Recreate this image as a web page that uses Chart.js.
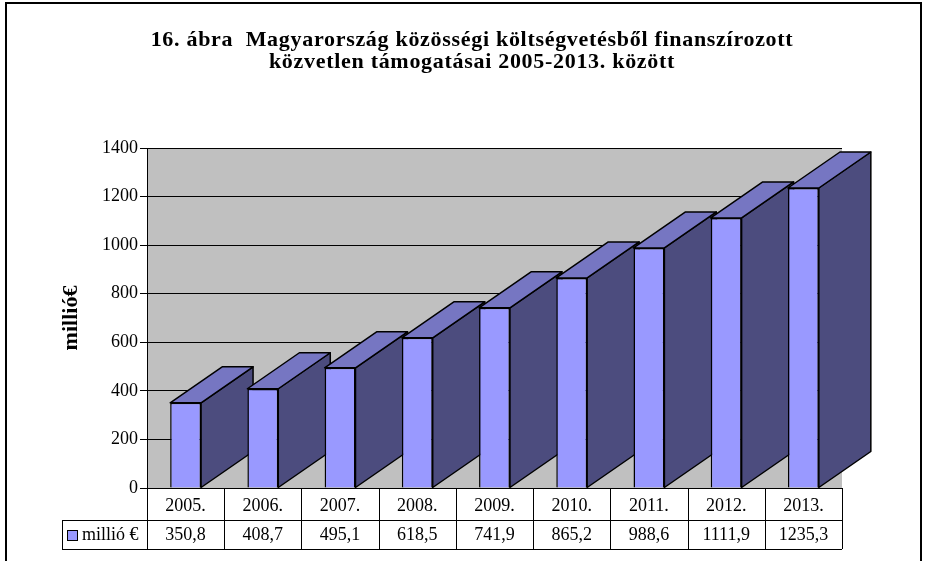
<!DOCTYPE html>
<html>
<head>
<meta charset="utf-8">
<script src="https://cdn.jsdelivr.net/npm/chart.js@4"></script>
<style>
  body { margin: 0; background: #fff; }
  canvas { display: block; }
</style>
</head>
<body>
<canvas id="chart" width="930" height="561"></canvas>
<script>
// data
const years = ['2005.', '2006.', '2007.', '2008.', '2009.', '2010.', '2011.', '2012.', '2013.'];
const values = [350.8, 408.7, 495.1, 618.5, 741.9, 865.2, 988.6, 1111.9, 1235.3];
const valueLabels = ['350,8', '408,7', '495,1', '618,5', '741,9', '865,2', '988,6', '1111,9', '1235,3'];
const seriesLabel = 'millió €';
const axisTitle = 'millió€';
const titleLines = [
  '16. ábra  Magyarország közösségi költségvetésből finanszírozott',
  'közvetlen támogatásai 2005-2013. között'
];
const yMin = 0;
const yMax = 1400;
const yStep = 200;

const serif = '"Liberation Serif", "Times New Roman", serif';
const frontColor = '#9999ff';
const sideColor = '#4c4c7e';
const topColor = '#7676c2';
const wallColor = '#c0c0c0';
const depthX = 52;
const depthY = 36;

// gray back wall + outer frame + title
const backdrop = {
  id: 'backdrop',
  beforeDraw(chart) {
    const ctx = chart.ctx;
    const a = chart.chartArea;
    ctx.save();
    ctx.fillStyle = '#fff';
    ctx.fillRect(0, 0, chart.width, chart.height);
    ctx.fillStyle = wallColor;
    ctx.fillRect(a.left, a.top, a.right - a.left, a.bottom - a.top);
    ctx.restore();
  },
  afterDraw(chart) {
    const ctx = chart.ctx;
    ctx.save();
    ctx.strokeStyle = '#000';
    ctx.lineWidth = 2;
    ctx.strokeRect(6, 3, 915, 700);

    ctx.fillStyle = '#000';
    ctx.font = 'bold 22px ' + serif;
    ctx.textAlign = 'center';
    ctx.textBaseline = 'alphabetic';
    ctx.letterSpacing = '0.7px';
    ctx.fillText(titleLines[0], 472, 46);
    ctx.fillText(titleLines[1], 472, 68);
    ctx.restore();
  }
};

// side and top faces of the 3D bars, drawn before the front faces
const bars3d = {
  id: 'bars3d',
  beforeDatasetsDraw(chart) {
    const ctx = chart.ctx;
    const meta = chart.getDatasetMeta(0);
    ctx.save();
    ctx.strokeStyle = '#000';
    ctx.lineWidth = 1.5;
    ctx.lineJoin = 'round';
    meta.data.forEach(bar => {
      const p = bar.getProps(['x', 'y', 'base', 'width'], true);
      const l = p.x - p.width / 2;
      const r = p.x + p.width / 2;
      // side
      ctx.beginPath();
      ctx.moveTo(r, p.base);
      ctx.lineTo(r + depthX, p.base - depthY);
      ctx.lineTo(r + depthX, p.y - depthY);
      ctx.lineTo(r, p.y);
      ctx.closePath();
      ctx.fillStyle = sideColor;
      ctx.fill();
      ctx.stroke();
      // top
      ctx.beginPath();
      ctx.moveTo(l, p.y);
      ctx.lineTo(l + depthX, p.y - depthY);
      ctx.lineTo(r + depthX, p.y - depthY);
      ctx.lineTo(r, p.y);
      ctx.closePath();
      ctx.fillStyle = topColor;
      ctx.fill();
      ctx.stroke();
    });
    ctx.restore();
  }
};

// data table under the x axis
const dataTable = {
  id: 'dataTable',
  afterDraw(chart) {
    const ctx = chart.ctx;
    const xs = chart.scales.x;
    const a = chart.chartArea;
    const colW = (a.right - a.left) / years.length;
    const rowMid = 520;
    const rowEnd = 549;
    const legendLeft = 62;
    ctx.save();
    ctx.strokeStyle = '#000';
    ctx.lineWidth = 1;
    ctx.beginPath();
    for (let i = 0; i <= years.length; i++) {
      const bx = Math.round(a.left + i * colW) + 0.5;
      ctx.moveTo(bx, a.bottom);
      ctx.lineTo(bx, rowEnd);
    }
    ctx.moveTo(legendLeft + 0.5, rowMid);
    ctx.lineTo(legendLeft + 0.5, rowEnd);
    ctx.moveTo(legendLeft, rowMid + 0.5);
    ctx.lineTo(a.right, rowMid + 0.5);
    ctx.moveTo(legendLeft, rowEnd + 0.5);
    ctx.lineTo(a.right, rowEnd + 0.5);
    ctx.stroke();

    ctx.fillStyle = '#000';
    ctx.font = '18px ' + serif;
    ctx.textAlign = 'center';
    ctx.textBaseline = 'middle';
    valueLabels.forEach((txt, i) => {
      ctx.fillText(txt, xs.getPixelForValue(i), 535);
    });

    // legend key
    ctx.fillStyle = frontColor;
    ctx.fillRect(67.5, 530.5, 10, 10);
    ctx.strokeRect(67.5, 530.5, 10, 10);
    ctx.fillStyle = '#000';
    ctx.textAlign = 'left';
    ctx.fillText(seriesLabel, 82, 535);
    ctx.restore();
  }
};

new Chart(document.getElementById('chart'), {
  type: 'bar',
  data: {
    labels: years,
    datasets: [{
      label: seriesLabel,
      data: values,
      backgroundColor: frontColor,
      borderColor: '#000',
      borderWidth: 1.5,
      barPercentage: 0.4,
      categoryPercentage: 1.0
    }]
  },
  options: {
    responsive: false,
    animation: false,
    layout: { padding: { left: 10, top: 148, right: 88, bottom: 0 } },
    plugins: {
      legend: { display: false },
      title: { display: false },
      tooltip: { enabled: false }
    },
    scales: {
      x: {
        grid: { display: false, drawTicks: false },
        border: { display: false },
        ticks: { color: '#000', font: { family: serif, size: 18 }, padding: 7 },
        afterFit(s) { s.height = 73; }
      },
      y: {
        min: yMin,
        max: yMax,
        ticks: {
          stepSize: yStep,
          color: '#000',
          font: { family: serif, size: 18 },
          padding: 2,
          callback: v => String(v)
        },
        grid: { color: '#000', lineWidth: 1, tickLength: 7 },
        border: { color: '#000', width: 1 },
        title: {
          display: true,
          text: axisTitle,
          color: '#000',
          font: { family: serif, size: 22, weight: 'bold' },
          padding: { top: 48, bottom: 0 }
        },
        afterFit(s) { s.width = 137; }
      }
    }
  },
  plugins: [backdrop, bars3d, dataTable]
});
</script>
</body>
</html>
